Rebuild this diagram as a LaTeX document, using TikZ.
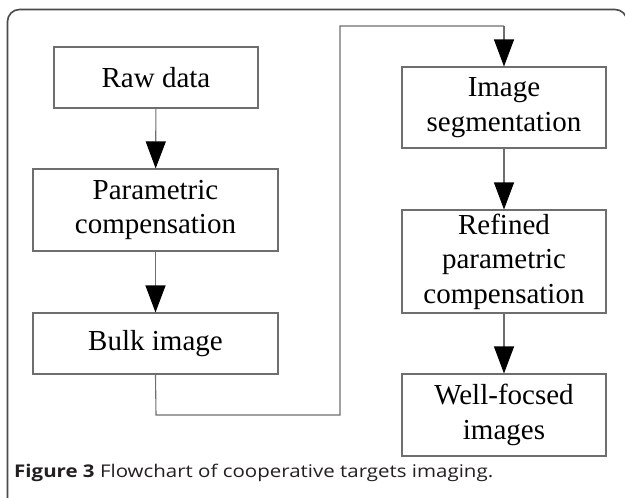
\documentclass[tikz,border=0pt]{standalone}
\usepackage{fontspec}
\setmainfont{Liberation Serif}
\newfontfamily\capfont{Open Sans}
\usetikzlibrary{arrows.meta}
\definecolor{boxline}{HTML}{6E6E6E}
\definecolor{frameline}{HTML}{4A4A4A}
\definecolor{captext}{HTML}{231F20}
\begin{document}
\begin{tikzpicture}[x=1pt,y=-1pt,
  stepbox/.style={draw=boxline,line width=1.1pt,rectangle,inner sep=0pt,
    align=center,font=\fontsize{29}{34.5}\selectfont},
  flow/.style={draw=boxline,line width=1.1pt,
    -{Triangle[length=27pt,width=20pt,color=black]}},
  link/.style={draw=boxline,line width=1.1pt}]
\useasboundingbox (0,0) rectangle (625,498);
% outer panel, open at the bottom
\draw[frameline,line width=1.6pt,rounded corners=12pt]
  (7.5,520) -- (7.5,9.5) -- (627,9.5) -- (627,520);
% left column
\node[stepbox,minimum width=204pt,minimum height=61pt] (raw) at (156,77.5) {Raw data};
\node[stepbox,minimum width=245pt,minimum height=82pt] (par) at (155.5,210) {Parametric\\compensation};
\node[stepbox,minimum width=245pt,minimum height=61pt] (bulk) at (155.5,343.5) {Bulk image};
% right column
\node[stepbox,minimum width=204pt,minimum height=81pt] (seg) at (504,107.5) {Image\\segmentation};
\node[stepbox,minimum width=204pt,minimum height=103pt] (ref) at (504,261.5) {Refined\\parametric\\compensation};
\node[stepbox,minimum width=204pt,minimum height=82pt] (well) at (504,415) {Well-focsed\\images};
% turn-around route between the columns
\coordinate (c1) at (156,415);
\coordinate (c2) at (340,415);
\coordinate (c3) at (340,26);
\coordinate (c4) at (504,26);
\draw[flow] (raw) -- (par);
\draw[flow] (par) -- (bulk);
\draw[link] (bulk.south) -- (c1) -- (c2) -- (c3) -- (c4);
\draw[flow] (c4) -- (seg.north);
\draw[flow] (seg) -- (ref);
\draw[flow] (ref) -- (well);
% caption
\node[anchor=base west,inner sep=0pt,text=captext,
  font=\capfont\fontsize{17.5}{20}\selectfont] (cap) at (14,477.5)
  {\scalebox{1.17}[1]{\textbf{Figure 3} Flowchart of cooperative targets imaging.}};
\end{tikzpicture}
\end{document}
